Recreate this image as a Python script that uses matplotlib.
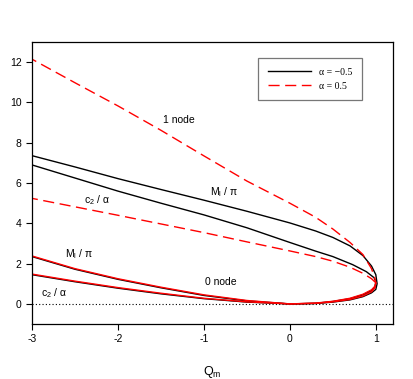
import matplotlib
matplotlib.use("Agg")
import matplotlib.pyplot as plt

plt.rcParams['font.family'] = ['Liberation Sans', 'DejaVu Sans']
plt.rcParams['axes.unicode_minus'] = False

# each curve: 0-node branch from Q=-3 through Q=0 to the fold at Q~1,
# then back along the 1-node branch to Q=-3
q_m1_neg = [-3, -2.5, -2, -1.5, -1, -0.5, 0, 0.3, 0.5, 0.7, 0.85, 0.95, 1.0, 1.015, 1.0,
            0.95, 0.85, 0.7, 0.5, 0.3, 0, -0.5, -1, -1.5, -2, -2.5, -3]
m1_neg = [2.35, 1.72, 1.22, 0.8, 0.42, 0.15, 0.0, 0.02, 0.09, 0.2, 0.36, 0.55, 0.72, 1.0, 1.45,
          1.88, 2.4, 2.88, 3.3, 3.62, 4.02, 4.6, 5.15, 5.68, 6.22, 6.8, 7.36]

q_c2_neg = [-3, -2.5, -2, -1.5, -1, -0.5, 0, 0.3, 0.5, 0.7, 0.85, 0.95, 0.99, 1.0,
            0.98, 0.89, 0.73, 0.5, 0.3, 0, -0.5, -1, -1.5, -2, -2.5, -3]
c2_neg = [1.45, 1.1, 0.78, 0.5, 0.26, 0.09, 0.0, 0.03, 0.12, 0.26, 0.45, 0.66, 0.85, 1.1,
          1.3, 1.6, 1.95, 2.35, 2.62, 3.05, 3.78, 4.42, 5.0, 5.6, 6.25, 6.9]

q_m1_pos = [-3, -2.5, -2, -1.5, -1, -0.5, 0, 0.3, 0.5, 0.7, 0.85, 0.95, 0.99, 1.0, 0.99,
            0.95, 0.85, 0.7, 0.5, 0.3, 0, -0.5, -1, -1.5, -2, -2.5, -3]
m1_pos = [2.38, 1.75, 1.25, 0.83, 0.45, 0.17, 0.0, 0.03, 0.1, 0.22, 0.39, 0.6, 0.8, 1.05, 1.25,
          1.75, 2.45, 3.05, 3.72, 4.3, 5.0, 6.1, 7.35, 8.62, 9.83, 10.98, 12.15]

q_c2_pos = [-3, -2.5, -2, -1.5, -1, -0.5, 0, 0.3, 0.5, 0.7, 0.85, 0.95, 0.99, 1.0,
            0.95, 0.85, 0.7, 0.5, 0.3, 0, -0.5, -1, -1.5, -2, -2.5, -3]
c2_pos = [1.48, 1.13, 0.81, 0.53, 0.28, 0.1, 0.0, 0.04, 0.13, 0.28, 0.48, 0.7, 0.88, 1.05,
          1.25, 1.52, 1.82, 2.12, 2.35, 2.63, 3.08, 3.54, 3.97, 4.4, 4.82, 5.24]

x_ticks = [-3, -2, -1, 0, 1]
y_ticks = [0, 2, 4, 6, 8, 10, 12]

fig = plt.figure(figsize=(4.14, 3.79), dpi=100)
ax = fig.add_axes([0.0773, 0.145, 0.872, 0.744])

ax.plot([-3, 1.2], [0, 0], color='black', lw=0.8, ls=(0, (1, 2)))

ax.plot(q_m1_neg, m1_neg, color='black', lw=1.0, label='α = −0.5')
ax.plot(q_c2_neg, c2_neg, color='black', lw=1.0)

dash = (0, (8, 4))
# 0-node part of the red curves looks solid (dashes hidden over black), 1-node part dashed
ax.plot(q_m1_pos[:13], m1_pos[:13], color='red', lw=1.0)
ax.plot(q_m1_pos[12:], m1_pos[12:], color='red', lw=1.0, ls=dash, label='α = 0.5')
ax.plot(q_c2_pos[:14], c2_pos[:14], color='red', lw=1.0)
ax.plot(q_c2_pos[13:], c2_pos[13:], color='red', lw=1.0, ls=dash)

fs = 7.5
ax.text(-1.29, 9.13, '1 node', fontsize=fs, ha='center', va='center')
ax.text(-0.77, 5.55, r'M$_\mathregular{l}$ / π', fontsize=fs, ha='center', va='center')
ax.text(-2.25, 5.15, r'c$_\mathregular{2}$ / α', fontsize=fs, ha='center', va='center')
ax.text(-2.45, 2.45, r'M$_\mathregular{l}$ / π', fontsize=fs, ha='center', va='center')
ax.text(-2.74, 0.55, r'c$_\mathregular{2}$ / α', fontsize=fs, ha='center', va='center')
ax.text(-0.8, 1.1, '0 node', fontsize=fs, ha='center', va='center')

ax.set_xlim(-3, 1.2)
ax.set_ylim(-1, 13)
ax.set_xticks(x_ticks)
ax.set_yticks(y_ticks)
ax.tick_params(direction='out', length=4, width=0.8, labelsize=fs)
for s in ax.spines.values():
    s.set_linewidth(0.9)

ax.set_xlabel(r'Q$_\mathregular{m}$', fontsize=9, labelpad=14)

leg = ax.legend(loc='upper right', bbox_to_anchor=(0.928, 0.961), fancybox=False,
                edgecolor='#555555', handlelength=4.5, borderpad=1.0, labelspacing=0.5,
                prop={'family': 'Liberation Serif', 'size': 7})
leg.get_frame().set_linewidth(0.9)

fig.savefig('out.png', dpi=100)
